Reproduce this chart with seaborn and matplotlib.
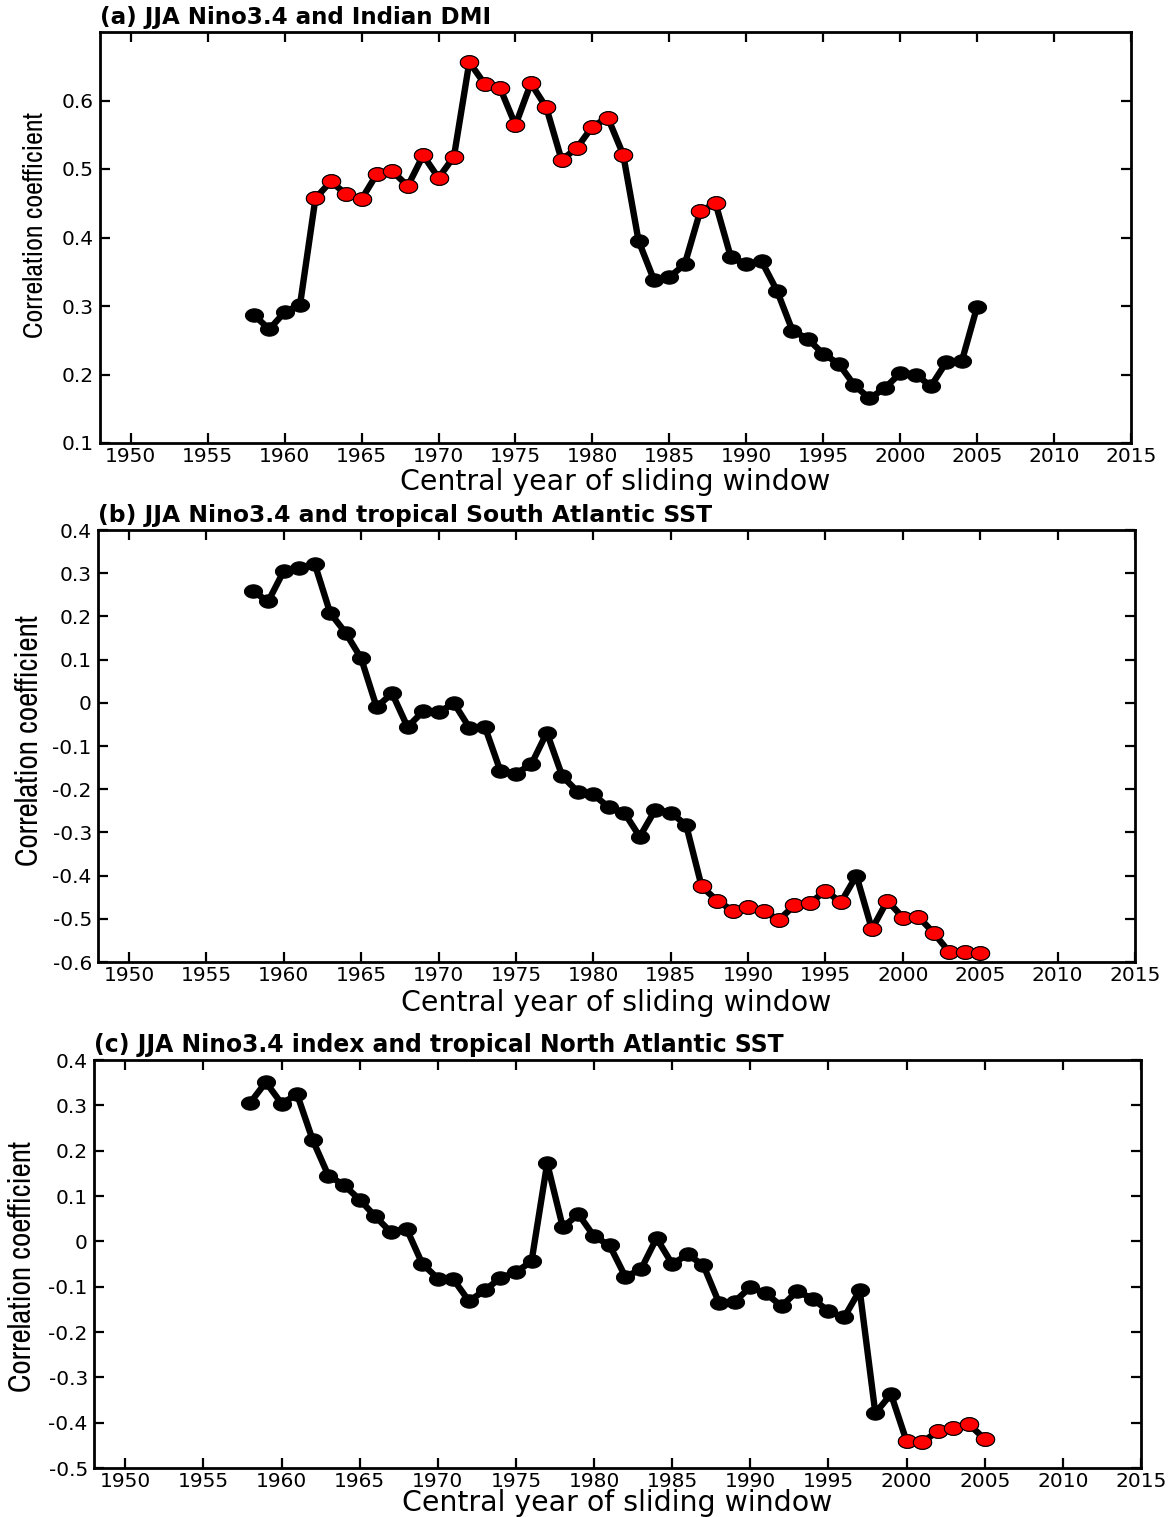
import numpy as np
import pandas as pd
import matplotlib
matplotlib.use("Agg")
import matplotlib.pyplot as plt
from matplotlib.path import Path
from matplotlib.ticker import FuncFormatter
from matplotlib import font_manager
import seaborn as sns

# ---------------- data ----------------
years = list(range(1958, 2006))

dmi_corr = [0.287, 0.266, 0.291, 0.302, 0.457, 0.482, 0.463, 0.456, 0.493, 0.497,
            0.475, 0.520, 0.487, 0.518, 0.656, 0.624, 0.618, 0.564, 0.625, 0.590,
            0.513, 0.531, 0.562, 0.575, 0.521, 0.395, 0.338, 0.342, 0.361, 0.438,
            0.450, 0.371, 0.361, 0.365, 0.322, 0.264, 0.252, 0.230, 0.216, 0.185,
            0.165, 0.180, 0.202, 0.200, 0.183, 0.218, 0.219, 0.299]

tsa_corr = [0.258, 0.235, 0.305, 0.311, 0.322, 0.208, 0.162, 0.103, -0.010, 0.022,
            -0.056, -0.020, -0.022, -0.001, -0.058, -0.056, -0.158, -0.164, -0.142, -0.069,
            -0.170, -0.206, -0.212, -0.242, -0.254, -0.310, -0.248, -0.254, -0.283, -0.425,
            -0.458, -0.481, -0.473, -0.483, -0.502, -0.469, -0.464, -0.435, -0.462, -0.400,
            -0.524, -0.458, -0.497, -0.495, -0.533, -0.577, -0.577, -0.579]

tna_corr = [0.306, 0.351, 0.304, 0.324, 0.223, 0.145, 0.124, 0.092, 0.055, 0.020,
            0.028, -0.049, -0.082, -0.084, -0.132, -0.108, -0.081, -0.068, -0.044, 0.172,
            0.031, 0.060, 0.011, -0.009, -0.078, -0.062, 0.007, -0.050, -0.029, -0.053,
            -0.136, -0.133, -0.101, -0.115, -0.143, -0.110, -0.127, -0.154, -0.168, -0.108,
            -0.379, -0.337, -0.441, -0.443, -0.419, -0.412, -0.404, -0.436]

dmi_sig_years = list(range(1962, 1983)) + [1987, 1988]
tsa_sig_years = list(range(1987, 1997)) + list(range(1998, 2006))
tna_sig_years = list(range(2000, 2006))

titles = ["(a) JJA Nino3.4 and Indian DMI",
          "(b) JJA Nino3.4 and tropical South Atlantic SST",
          "(c) JJA Nino3.4 index and tropical North Atlantic SST"]
x_ticks = list(range(1950, 2016, 5))
y_ticks_a = [0.1, 0.2, 0.3, 0.4, 0.5, 0.6]
y_ticks_b = [-0.6, -0.5, -0.4, -0.3, -0.2, -0.1, 0, 0.1, 0.2, 0.3, 0.4]
y_ticks_c = [-0.5, -0.4, -0.3, -0.2, -0.1, 0, 0.1, 0.2, 0.3, 0.4]
xlabel = "Central year of sliding window"
ylabel = "Correlation coefficient"

# ---------------- style ----------------
sns.set_style("ticks")
plt.rcParams["font.family"] = ["DejaVu Sans"]
plt.rcParams["axes.unicode_minus"] = False
plt.rcParams["text.color"] = "black"
plt.rcParams["axes.labelcolor"] = "black"
plt.rcParams["axes.titlecolor"] = "black"

# pick a narrow face for the y label if one is installed
_names = sorted({f.name for f in font_manager.fontManager.ttflist})
_narrow = [n for n in _names if ("Narrow" in n or "Condensed" in n)]
ylab_family = [_narrow[0], "DejaVu Sans"] if _narrow else ["Liberation Sans", "DejaVu Sans"]

W, H = 1175, 1517
fig = plt.figure(figsize=(W / 100, H / 100), dpi=100)
fig.patch.set_facecolor("white")


def px_axes(left, top, right, bottom):
    return fig.add_axes([left / W, 1 - bottom / H, (right - left) / W, (bottom - top) / H])


t = np.linspace(0, 2 * np.pi, 64)
ellipse = Path(np.column_stack([1.35 * np.cos(t), np.sin(t)]), closed=True)

# (box px), values, significant years, ylim, yticks,
# ylabel centre px, ylabel length px, xlabel centre y px, title width px
panels = [
    ((100, 32, 1131, 443), dmi_corr, dmi_sig_years, (0.1, 0.7), y_ticks_a,
     (36, 225), 226, 482, 393),
    ((98, 530, 1135, 962), tsa_corr, tsa_sig_years, (-0.6, 0.4), y_ticks_b,
     (29.5, 741), 252, 1003, 613),
    ((94, 1060, 1141, 1468), tna_corr, tna_sig_years, (-0.5, 0.4), y_ticks_c,
     (22.5, 1266), 253, 1503, 693),
]

fmt = FuncFormatter(lambda v, p: f"{round(v, 2):g}")
fit_items = []

for (box, vals, sig, ylim, yt, ylc, ylen, xly, tw), title in zip(panels, titles):
    l, tp, r, b = box
    ax = px_axes(*box)
    df = pd.DataFrame({"year": years, "corr": vals})
    df["sig"] = df["year"].isin(sig)
    sns.lineplot(data=df, x="year", y="corr", ax=ax, color="black", lw=4.6,
                 marker=ellipse, markersize=13, markerfacecolor="black",
                 markeredgecolor="black", zorder=2)
    sns.scatterplot(data=df[df["sig"]], x="year", y="corr", ax=ax, color="#ff0000",
                    marker=ellipse, s=175, edgecolor="black", linewidth=0.8, zorder=3)
    ax.set_xlim(1948, 2015)
    ax.set_ylim(*ylim)
    ax.set_xticks(x_ticks)
    ax.set_yticks(yt)
    ax.yaxis.set_major_formatter(fmt)
    ax.tick_params(direction="in", length=7, width=1.6, top=True, right=True,
                   labelsize=14.5, pad=4.5, colors="black")
    ax.tick_params(axis="x", pad=3)
    for s in ax.spines.values():
        s.set_linewidth(2.0)
        s.set_color("black")
    xl = ax.set_xlabel(xlabel, fontsize=20, va="center", ha="center", color="black")
    ax.xaxis.set_label_coords(0.5, (b - xly) / (b - tp))
    yl = ax.set_ylabel(ylabel, fontsize=20, va="center", ha="center", family=ylab_family,
                       color="black")
    ax.yaxis.set_label_coords((ylc[0] - l) / (r - l), (b - ylc[1]) / (b - tp))
    ti = ax.set_title(title, loc="left", fontsize=17, fontweight="bold", pad=5.5,
                      color="black")
    ax.grid(False)
    fit_items += [(xl, 430, "w"), (yl, ylen, "h"), (ti, tw, "w")]

# fit text sizes to the lengths measured on the reference
for _ in range(2):
    fig.canvas.draw()
    rend = fig.canvas.get_renderer()
    for txt, target, dim in fit_items:
        bb = txt.get_window_extent(rend)
        cur = bb.width if dim == "w" else bb.height
        if cur > 0:
            txt.set_fontsize(txt.get_fontsize() * target / cur)

fig.savefig("out.png", dpi=100, facecolor="white")
